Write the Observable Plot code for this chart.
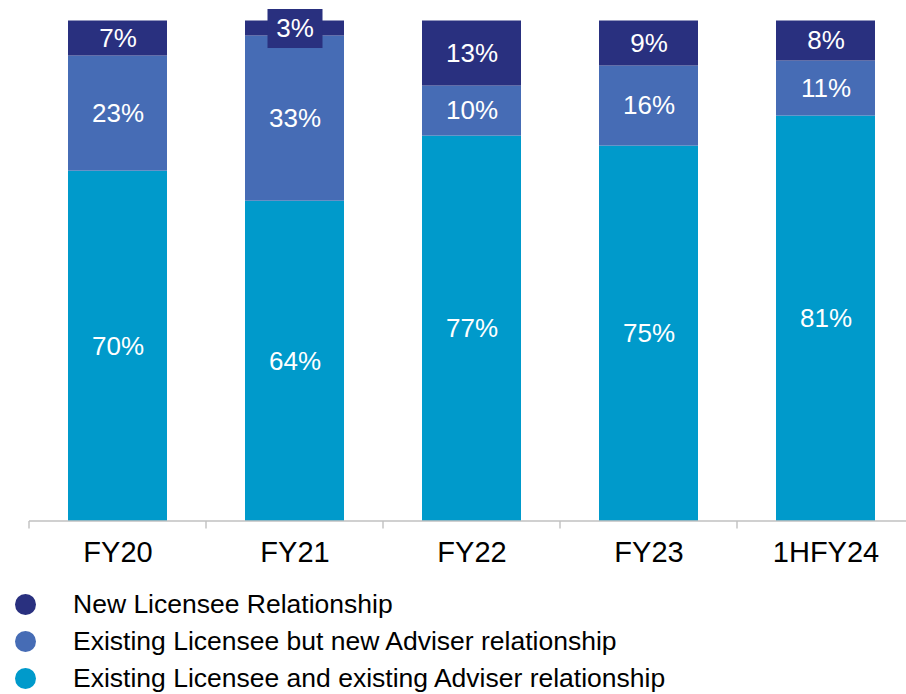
<!DOCTYPE html>
<html>
<head>
<meta charset="utf-8">
<script src="https://cdn.jsdelivr.net/npm/d3@7"></script>
<script src="https://cdn.jsdelivr.net/npm/@observablehq/plot@0.6"></script>
<style>
  html, body { margin: 0; padding: 0; background: #fff; }
  body { width: 906px; height: 694px; overflow: hidden; font-family: "Liberation Sans", Arial, sans-serif; color: #000; }
  #legend { margin: 0; padding: 0; }
  .row { display: flex; align-items: center; height: 37px; font-size: 26.5px; line-height: 37px; white-space: nowrap; }
  .sw { width: 21px; height: 21px; border-radius: 50%; margin-left: 14.5px; margin-right: 37.5px; flex: none; }
  svg { display: block; }
</style>
</head>
<body>
<div id="chart"></div>
<div id="legend"></div>
<script>
// ---- data ----
const categories = ["FY20", "FY21", "FY22", "FY23", "1HFY24"];
const series = [
  "Existing Licensee and existing Adviser relationship",
  "Existing Licensee but new Adviser relationship",
  "New Licensee Relationship"
];
const existingBoth = [70, 64, 77, 75, 81];
const existingLicenseeNewAdviser = [23, 33, 10, 16, 11];
const newLicensee = [7, 3, 13, 9, 8];
const colors = ["#009acb", "#466cb5", "#29307f"];
const legendOrder = [2, 1, 0];

const valuesBySeries = [existingBoth, existingLicenseeNewAdviser, newLicensee];
const data = categories.flatMap((cat, i) =>
  series.map((s, j) => ({cat, series: s, value: valuesBySeries[j][i]}))
);

// axis line with ticks at band boundaries
function bandAxis(index, scales) {
  const x = scales.x;
  const bw = typeof x.bandwidth === "function" ? x.bandwidth() : scales.scales.x.bandwidth;
  const step = typeof x.step === "function" ? x.step() : scales.scales.x.step;
  const gap = (step - bw) / 2;
  const bounds = categories.map(c => x(c) - gap);
  bounds.push(x(categories[categories.length - 1]) + bw + gap);
  const y0 = scales.y(0);
  const g = d3.create("svg:g").attr("stroke", "#c0c0c0").attr("stroke-width", 1.4).attr("fill", "none");
  g.append("line").attr("x1", bounds[0]).attr("x2", bounds[bounds.length - 1]).attr("y1", y0).attr("y2", y0);
  g.selectAll("line.t").data(bounds).join("line").attr("class", "t")
    .attr("x1", d => d).attr("x2", d => d).attr("y1", y0).attr("y2", y0 + 7.5);
  return g.node();
}

const chart = Plot.plot({
  width: 906,
  height: 586,
  marginTop: 20.5,
  marginBottom: 65,
  marginLeft: 0,
  marginRight: 0,
  style: {fontFamily: "Liberation Sans, Arial, sans-serif", background: "#fff", color: "#000"},
  x: {domain: categories, range: [29, 914], paddingInner: 0.44, paddingOuter: 0.22, axis: null, label: null},
  y: {domain: [0, 100], range: [521, 20.5], axis: null},
  color: {domain: series, range: colors},
  marks: [
    Plot.barY(data, {x: "cat", y: "value", fill: "series", z: "series", order: series}),
    bandAxis,
    Plot.axisX({tickSize: 0, tickPadding: 20, fontSize: 29, fill: "#000", label: null}),
    Plot.text(data, Plot.stackY({
      x: "cat", y: "value", z: "series", order: series,
      text: d => d.value + "%",
      fill: "#fff", fontSize: 26,
      render(index, scales, values, dimensions, context, next) {
        const g = next(index, scales, values, dimensions, context);
        const texts = g.querySelectorAll("text");
        index.forEach((i, k) => {
          const d = data[i];
          if (d.series === series[2] && d.value < 5 && texts[k]) {
            const t = texts[k];
            const r = document.createElementNS("http://www.w3.org/2000/svg", "rect");
            const tf = t.getAttribute("transform");
            let tx = 0, ty = 0;
            if (!tf) {
              const ax = parseFloat(t.getAttribute("x")), ay = parseFloat(t.getAttribute("y"));
              tx = isFinite(ax) ? ax : 0;
              ty = isFinite(ay) ? ay : 0;
            }
            r.setAttribute("x", tx - 27.5);
            r.setAttribute("y", ty - 19.5);
            r.setAttribute("width", 55);
            r.setAttribute("height", 39);
            r.setAttribute("fill", colors[2]);
            if (tf) r.setAttribute("transform", tf);
            g.insertBefore(r, g.firstChild);
          }
        });
        return g;
      }
    }))
  ]
});
document.getElementById("chart").appendChild(chart);

// legend
const legend = document.getElementById("legend");
legendOrder.forEach(j => {
  const row = document.createElement("div");
  row.className = "row";
  const sw = document.createElement("span");
  sw.className = "sw";
  sw.style.background = colors[j];
  const label = document.createElement("span");
  label.textContent = series[j];
  row.appendChild(sw);
  row.appendChild(label);
  legend.appendChild(row);
});
</script>
</body>
</html>
